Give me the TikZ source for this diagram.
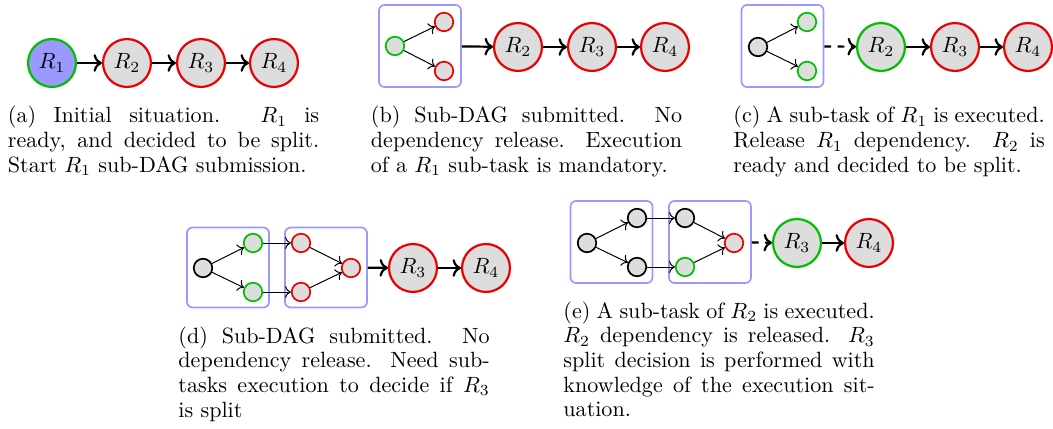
\documentclass[tikz,border=0pt]{standalone}
\usetikzlibrary{arrows.meta}
\definecolor{mygreen}{RGB}{0,190,0}
\definecolor{myred}{RGB}{235,0,0}
\definecolor{myblue}{RGB}{153,153,255}
\definecolor{mygray}{RGB}{221,221,221}
\tikzset{
  big/.style={circle, draw, line width=1pt, fill=mygray, minimum size=21.7pt, inner sep=0pt, font=\normalsize},
  small/.style={circle, draw, line width=0.77pt, fill=mygray, minimum size=8.4pt, inner sep=0pt},
  rd/.style={draw=myred},
  gr/.style={draw=mygreen},
  bk/.style={draw=black},
  dagbox/.style={draw=myblue, line width=0.77pt, rounded corners=2.6pt, minimum width=37.2pt, minimum height=37.2pt, inner sep=0pt},
  mainarr/.style={->, line width=1pt},
  subarr/.style={->, line width=0.45pt},
  capt/.style={anchor=base west, inner sep=0pt, text width=141pt, align=justify, font=\fontsize{10}{11.2}\selectfont},
}
\begin{document}
\begin{tikzpicture}[x=0.453pt, y=-0.453pt]
\useasboundingbox (0,0) rectangle (1053,429);
% ---------- (a)
\node[big, gr, fill=myblue] (aR1) at (52,63) {$R_1$};
\node[big, rd] (aR2) at (127,63) {$R_2$};
\node[big, rd] (aR3) at (201,63) {$R_3$};
\node[big, rd] (aR4) at (274,63) {$R_4$};
\draw[mainarr] (aR1) -- (aR2);
\draw[mainarr] (aR2) -- (aR3);
\draw[mainarr] (aR3) -- (aR4);
\node[capt] (capa) at (7.5,123) {(a) Initial situation. $R_1$ is\linebreak ready, and decided to be split.\linebreak Start $R_1$ sub-DAG submission.};
% ---------- (b)
\node[dagbox] (bbox) at (420,46) {};
\node[small, gr] (bg) at (395,46) {};
\node[small, rd] (brt) at (444,22) {};
\node[small, rd] (brb) at (444,71) {};
\draw[subarr] (bg) -- (brt);
\draw[subarr] (bg) -- (brb);
\node[big, rd] (bR2) at (518,47) {$R_2$};
\node[big, rd] (bR3) at (592,47) {$R_3$};
\node[big, rd] (bR4) at (665,47) {$R_4$};
\draw[mainarr] (bbox) -- (bR2);
\draw[mainarr] (bR2) -- (bR3);
\draw[mainarr] (bR3) -- (bR4);
\node[capt] (capb) at (370.5,123) {(b) Sub-DAG submitted. No\linebreak dependency release. Execution\linebreak of a $R_1$ sub-task is mandatory.};
% ---------- (c)
\node[dagbox] (cbox) at (782.5,46) {};
\node[small, bk] (ck) at (758,47) {};
\node[small, gr] (cgt) at (807,22) {};
\node[small, gr] (cgb) at (807,71) {};
\draw[subarr] (ck) -- (cgt);
\draw[subarr] (ck) -- (cgb);
\node[big, gr] (cR2) at (881,47) {$R_2$};
\node[big, rd] (cR3) at (955,47) {$R_3$};
\node[big, rd] (cR4) at (1028,47) {$R_4$};
\draw[mainarr, dashed] (cbox) -- (cR2);
\draw[mainarr] (cR2) -- (cR3);
\draw[mainarr] (cR3) -- (cR4);
\node[capt] (capc) at (733,123) {(c) A sub-task of $R_1$ is executed.\linebreak Release $R_1$ dependency. $R_2$ is\linebreak ready and decided to be split.};
% ---------- (d)
\node[dagbox, minimum height=36.2pt] (dbox1) at (228,267.5) {};
\node[dagbox, minimum height=36.2pt] (dbox2) at (326,267.5) {};
\node[small, bk] (dk) at (203,268) {};
\node[small, gr] (dg1) at (253,243) {};
\node[small, gr] (dg2) at (253,292) {};
\node[small, rd] (dr1) at (301,243) {};
\node[small, rd] (dr2) at (301,292) {};
\node[small, rd] (dr3) at (351,268) {};
\draw[subarr] (dk) -- (dg1);
\draw[subarr] (dk) -- (dg2);
\draw[subarr] (dg1) -- (dr1);
\draw[subarr] (dg2) -- (dr2);
\draw[subarr] (dr1) -- (dr3);
\draw[subarr] (dr2) -- (dr3);
\node[big, rd] (dR3) at (413,268) {$R_3$};
\node[big, rd] (dR4) at (486,268) {$R_4$};
\draw[mainarr] (dbox2) -- (dR3);
\draw[mainarr] (dR3) -- (dR4);
\node[capt] (capd) at (178,343) {(d) Sub-DAG submitted. No\linebreak dependency release. Need sub-\linebreak tasks execution to decide if $R_3$\linebreak is split};
% ---------- (e)
\node[dagbox] (ebox1) at (611.5,242) {};
\node[dagbox] (ebox2) at (710,242) {};
\node[small, bk] (ek) at (587,243) {};
\node[small, bk] (ek1) at (637,218) {};
\node[small, bk] (ek2) at (637,267) {};
\node[small, bk] (ek3) at (685,218) {};
\node[small, gr] (eg) at (685,267) {};
\node[small, rd] (er) at (734,243) {};
\draw[subarr] (ek) -- (ek1);
\draw[subarr] (ek) -- (ek2);
\draw[subarr] (ek1) -- (ek3);
\draw[subarr] (ek2) -- (eg);
\draw[subarr] (ek3) -- (er);
\draw[subarr] (eg) -- (er);
\node[big, gr] (eR3) at (797,243) {$R_3$};
\node[big, rd] (eR4) at (869,243) {$R_4$};
\draw[mainarr, dashed] (ebox2) -- (eR3);
\draw[mainarr] (eR3) -- (eR4);
\node[capt] (cape) at (563,318) {(e) A sub-task of $R_2$ is executed.\linebreak $R_2$ dependency is released. $R_3$\linebreak split decision is performed with\linebreak knowledge of the execution sit-\linebreak uation.};
\end{tikzpicture}
\end{document}
